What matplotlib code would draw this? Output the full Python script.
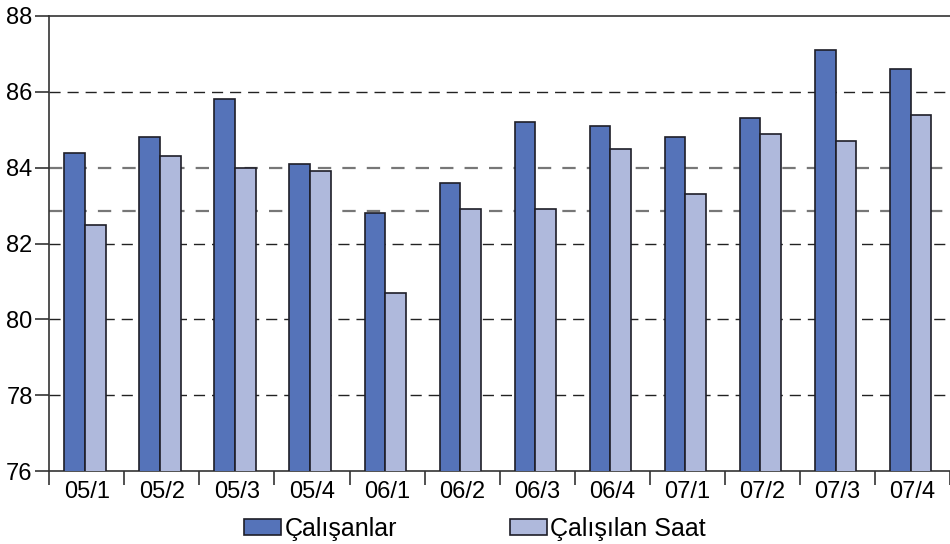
import matplotlib.pyplot as plt
import numpy as np

quarters = ["05/1", "05/2", "05/3", "05/4", "06/1", "06/2",
            "06/3", "06/4", "07/1", "07/2", "07/3", "07/4"]
calisanlar = [84.4, 84.8, 85.8, 84.1, 82.8, 83.6, 85.2, 85.1, 84.8, 85.3, 87.1, 86.6]
calisilan_saat = [82.5, 84.3, 84.0, 83.9, 80.7, 82.9, 82.9, 84.5, 83.3, 84.9, 84.7, 85.4]
y_ticks = [76, 78, 80, 82, 84, 86, 88]
black_grid = [78, 80, 82, 86]
gray_grid = [82.86, 84]

plt.rcParams['font.family'] = ['Liberation Sans', 'DejaVu Sans']

fig = plt.figure(figsize=(9.5, 5.44), dpi=100)
ax = fig.add_axes([49.3 / 950, 73 / 544, 1 - 49.3 / 950, (471 - 16) / 544])

x = np.arange(len(quarters))
w = 0.275
for lvl in black_grid:
    ax.axhline(lvl, color='#222222', lw=1.0, ls=(0, (8, 5)), zorder=1)
for lvl in gray_grid:
    ax.axhline(lvl, color='#777777', lw=1.6, ls=(0, (6, 5)), zorder=1)

ax.bar(x - 0.1625, calisanlar, w, bottom=0, color='#5573b9', edgecolor='#1e1e28',
       lw=1.2, zorder=3, label='Çalışanlar')
ax.bar(x + 0.1125, calisilan_saat, w, bottom=0, color='#afb9dc', edgecolor='#1e1e28',
       lw=1.2, zorder=3, label='Çalışılan Saat')

ax.set_ylim(76, 88)
ax.set_xlim(-0.5, -0.5 + (950 - 49.3) / 75.6)
ax.set_yticks(y_ticks)
ax.set_xticks(x)
ax.set_xticklabels(quarters)
ax.set_xticks(np.arange(len(quarters) + 1) - 0.5, minor=True)
ax.tick_params(axis='x', which='major', length=0, labelsize=17, pad=7)
ax.tick_params(axis='x', which='minor', length=10, width=1.2, direction='out', color='#333333')
ax.tick_params(axis='y', length=10, width=1.2, labelsize=17, pad=2, color='#333333')
ax.spines['right'].set_visible(False)
for s in ['left', 'bottom', 'top']:
    ax.spines[s].set_color('#333333')
    ax.spines[s].set_linewidth(1.2)

fig.legend(loc='center left', bbox_to_anchor=(244 / 950, 15 / 544), ncol=2, frameon=False,
           fontsize=18, handlelength=1.48, handleheight=0.6, handletextpad=0.15,
           columnspacing=4.5, borderpad=0, borderaxespad=0)

fig.savefig('out.png', dpi=100)
